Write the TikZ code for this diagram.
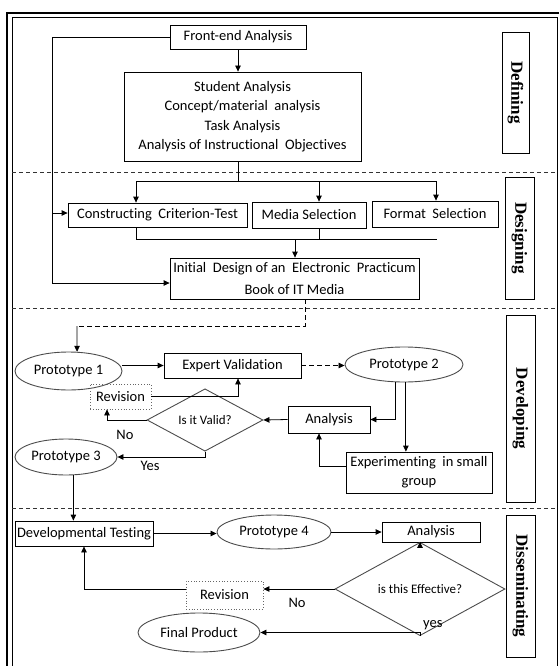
\documentclass[tikz,border=0pt]{standalone}
\usepackage{fontspec}
\setmainfont{Carlito}[Ligatures=NoCommon]
\newfontfamily\sidefont{Liberation Serif}
\usetikzlibrary{shapes.geometric,arrows.meta}
\newcommand\mfont{\fontsize{14.5pt}{19.5pt}\selectfont}
\tikzset{
  bx/.style={draw, line width=0.8pt, inner sep=0pt, align=center, font=\mfont},
  dotbx/.style={draw=gray!80!black, dotted, line width=0.8pt, inner sep=0pt, align=center, font=\mfont},
  ell/.style={draw=gray!60!black, ellipse, line width=0.9pt, inner sep=0pt, font=\mfont},
  dia/.style={draw=gray!60!black, diamond, line width=0.9pt, inner sep=0pt, font=\fontsize{13pt}{15pt}\selectfont},
  sz/.style 2 args={minimum width=#1 pt, minimum height=#2 pt},
  side/.style={draw, line width=0.8pt, rotate=-90, inner sep=0pt, font=\sidefont\bfseries\fontsize{17pt}{19pt}\selectfont},
  conn/.style={line width=0.8pt},
  arr/.style={line width=0.8pt, -{Triangle[length=6pt,width=5.5pt]}},
  sep/.style={dashed, dash pattern=on 4pt off 3pt, line width=0.7pt, gray!40!black},
  lbl/.style={inner sep=0pt, font=\mfont}
}
\begin{document}
\begin{tikzpicture}[x=1pt,y=-1pt]
\useasboundingbox (0,0) rectangle (559,666);
% frame
\draw[line width=1.8pt] (7,13) rectangle (575,700);
\draw[line width=1pt] (12,18) rectangle (557,700);
% separators
\draw[sep] (12,172) -- (557,172);
\draw[sep] (12,308) -- (557,308);
\draw[sep] (12,508) -- (557,508);
% side labels
\node[side, minimum width=121pt, minimum height=27pt] (sdef) at (515.5,92.5) {Defining};
\node[side, minimum width=122pt, minimum height=29pt] (sdes) at (519.5,238) {Designing};
\node[side, minimum width=187pt, minimum height=29pt] (sdev) at (520.5,408.5) {Developing};
\node[side, minimum width=142pt, minimum height=29pt] (sdis) at (520.5,586) {Disseminating};
% Defining
\node[bx, sz={136}{24}] (fe) at (238,37) {Front-end Analysis};
\node[bx, sz={237}{89}] (sa) at (242.5,116.5) {Student Analysis\\Concept/material\ \ analysis\\Task Analysis\\Analysis of Instructional\ \ Objectives};
% Designing
\node[bx, sz={179}{24}] (cct) at (157.5,215) {Constructing\ \ Criterion-Test};
\node[bx, sz={114}{26}] (ms) at (309,215) {Media Selection};
\node[bx, sz={126}{26}] (fs) at (435,214) {Format\ \ Selection};
\node[bx, sz={249}{41}, font=\fontsize{14.5pt}{22pt}\selectfont] (idb) at (294.5,278.5) {Initial\ \ Design of an\ \ Electronic\ \ Practicum\\Book of IT Media};
% Developing
\node[ell, sz={107}{38}] (p1) at (68.5,371) {Prototype 1};
\node[bx, sz={137}{25}] (ev) at (232.5,365.5) {Expert Validation};
\node[ell, sz={118}{35}] (p2) at (404,364.5) {Prototype 2};
\node[dotbx, sz={61}{25}] (rv1) at (120.5,396.5) {Revision};
\node[dia, sz={116}{46}] (iv) at (205,420) {Is it Valid?};
\node[bx, sz={82}{27}] (an1) at (329,419.5) {Analysis};
\node[bx, sz={146}{41}, font=\fontsize{14.5pt}{19pt}\selectfont] (ex) at (419,472.5) {Experimenting\ \ in small\\group};
\node[ell, sz={102}{36}] (p3) at (66,457) {Prototype 3};
% Disseminating
\node[bx, sz={138}{25}] (dt) at (84,533.5) {Developmental Testing};
\node[ell, sz={114}{34}] (p4) at (274,532) {Prototype 4};
\node[bx, sz={98}{20}] (an2) at (431,532) {Analysis};
\node[dia, sz={170}{56}] (ie) at (420,589) {is this Effective?};
\node[dotbx, sz={77}{28}] (rv2) at (224.5,595) {Revision};
\node[ell, sz={122}{39}] (fp) at (199,632.5) {Final Product};
% labels
\node[lbl] (no1) at (125,435) {No};
\node[lbl] (yes1) at (150,466) {Yes};
\node[lbl] (no2) at (297,603) {No};
\node[lbl, anchor=west] (yes2) at (423,625) {yes};
% coordinates
\coordinate (L1) at (52,37);
\coordinate (L2) at (52,213);
\coordinate (L3) at (52,283);
\coordinate (S1) at (238,181);
\coordinate (SL) at (136,181);
\coordinate (SR) at (436,181);
\coordinate (MT) at (319,181);
\coordinate (J1) at (136,239);
\coordinate (J2) at (437,239);
\coordinate (JM) at (295,239);
\coordinate (c1) at (77,326);
% connectors Defining/Designing
\draw[arr] (fe.south) -- (fe.south |- sa.north);
\draw[conn] (fe.west) -- (L1) -- (L3);
\draw[arr] (L3) -- (L3 -| idb.west);
\draw[arr] (L2) -- (L2 -| cct.west);
\draw[conn] (sa.south -| S1) -- (S1);
\draw[conn] (SL) -- (SR);
\draw[arr] (SL) -- (SL |- cct.north);
\draw[arr] (MT) -- (MT |- ms.north);
\draw[arr] (SR) -- (SR |- fs.north);
\draw[conn] (J1 |- cct.south) -- (J1) -- (J2);
\draw[conn] (MT |- ms.south) -- (MT |- J1);
\draw[arr] (JM) -- (JM |- idb.north);
% Developing
\draw[conn, dashed, dash pattern=on 5pt off 3pt] ([xshift=10.5pt]idb.south) |- (c1);
\draw[arr] (c1) -- (p1.66);
\draw[arr] (p1.east |- ev.west) -- (ev.west);
\draw[arr, dashed, dash pattern=on 5pt off 3pt] (ev.east) -- (ev.east -| p2.west);
\draw[arr] (rv1.east) -| ([xshift=5.5pt]ev.south);
\draw[arr] (iv.west) -| ([xshift=-13.5pt]rv1.south);
\draw[arr] (an1.west) -- (iv.east);
\draw[arr] (p2.245) |- (an1.east);
\draw[arr] (p2.276) -- (p2.276 |- ex.north);
\draw[arr] ([yshift=6.5pt]ex.west) -| ([xshift=-10pt]an1.south);
\draw[arr] (iv.south) |- (p3.east);
\draw[arr] (p3.292) -- (p3.292 |- dt.north);
% Disseminating
\draw[arr] (dt.east) -- (dt.east -| p4.west);
\draw[arr] (p4.east) -- (p4.east -| an2.west);
\draw[arr] ([xshift=-11pt]an2.south) -- (ie.north);
\draw[arr] (ie.west) -- (ie.west -| rv2.east);
\draw[arr] (rv2.west |- ie.west) -| (dt.south);
\draw[arr] (ie.south) |- (fp.east);
\end{tikzpicture}
\end{document}
